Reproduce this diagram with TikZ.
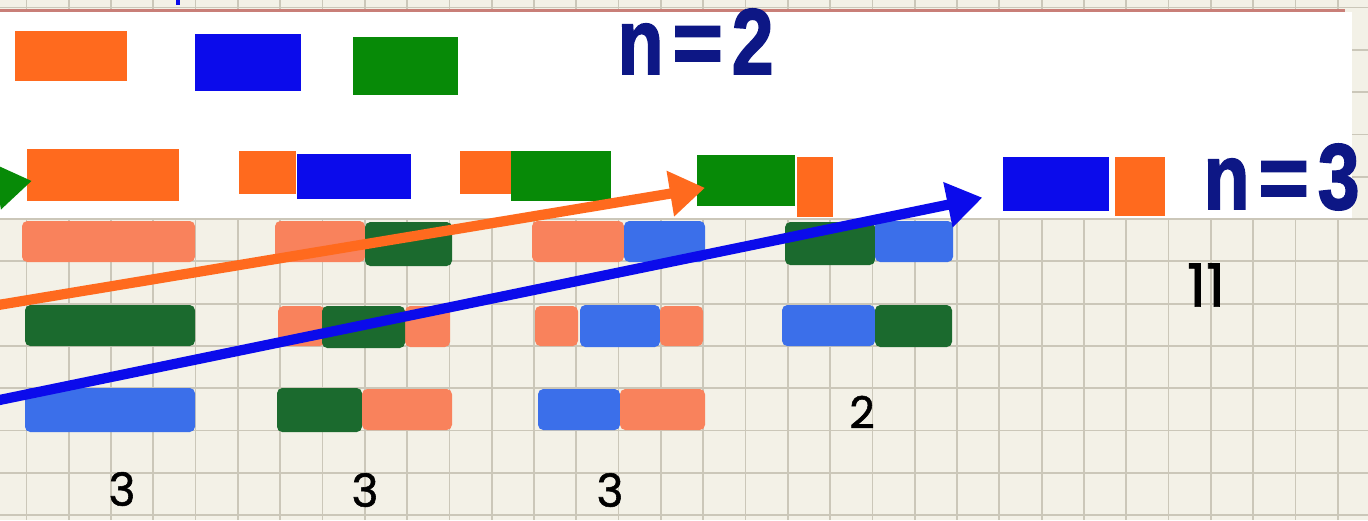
\documentclass[tikz,border=0pt]{standalone}
\usepackage{fontspec}
\usetikzlibrary{arrows.meta}
\newfontfamily\heavyfont{Liberation Sans}[BoldFeatures={FakeBold=2}]
\newfontfamily\handfont{Poppins}[FakeBold=1.2]
\definecolor{paper}{HTML}{F3F1E7}
\definecolor{gridc}{HTML}{CBC7B9}
\definecolor{redl}{HTML}{C97F78}
\definecolor{brO}{HTML}{FF6A1E}
\definecolor{brB}{HTML}{0B0BEB}
\definecolor{brG}{HTML}{078A07}
\definecolor{sal}{HTML}{F9825C}
\definecolor{dgr}{HTML}{1B6A2E}
\definecolor{lbl}{HTML}{3B6FEA}
\definecolor{navy}{HTML}{0D1785}
\newcommand{\bigglyphs}[1]{\scalebox{0.82}[1.02]{n}\kern2.5pt\scalebox{0.95}[1]{=}\kern2.5pt\scalebox{0.82}[1.02]{#1}}
\begin{document}
\begin{tikzpicture}[x=0.01cm,y=-0.01cm,
  gridl/.style={draw=gridc,line width=0.5pt},
  box/.style={inner sep=0pt,outer sep=0pt,anchor=north west},
  hd/.style={rounded corners=1.5pt},
  arr/.style={line width=2.9pt,-{Triangle[length=10pt,width=12.5pt]}},
  bigtxt/.style={anchor=base west,inner sep=0pt,text=navy,font=\heavyfont\bfseries\fontsize{26}{26}\selectfont},
  hand/.style={inner sep=0pt,text=black}]
\clip (0,0) rectangle (1368,520);
\fill[paper] (0,0) rectangle (1368,520);
\foreach \k in {0,...,31} \draw[gridl] ({26.4+42.3*\k},0) -- ({26.4+42.3*\k},520);
\foreach \k in {-5,...,7} \draw[gridl] (0,{219+42.3*\k}) -- (1368,{219+42.3*\k});
\fill[white] (0,12) rectangle (1352,218);
\draw[redl,line width=0.9pt] (0,10.5) -- (1345,10.5);
\draw[brB,line width=1pt] (178,0) -- (178,5);
% hand-drawn rows
% row 1
\fill[sal,hd] (22,221) rectangle (195,262);
\fill[sal,hd] (275,221) rectangle (365,262);
\fill[dgr,hd] (365,222) rectangle (452,266);
\fill[sal,hd] (532,221) rectangle (624,262);
\fill[lbl,hd] (624,221) rectangle (705,262);
\fill[dgr,hd] (785,222) rectangle (875,265);
\fill[lbl,hd] (875,221) rectangle (953,262);
% row 2
\fill[dgr,hd] (25,305) rectangle (195,346);
\fill[sal,hd] (278,306) rectangle (325,346);
\fill[sal,hd] (405,306) rectangle (450,347);
\fill[dgr,hd] (322,306) rectangle (405,348);
\fill[sal,hd] (535,306) rectangle (578,346);
\fill[lbl,hd] (580,305) rectangle (660,347);
\fill[sal,hd] (660,306) rectangle (703,346);
\fill[lbl,hd] (782,305) rectangle (875,346);
\fill[dgr,hd] (875,305) rectangle (952,347);
% row 3
\fill[lbl,hd] (25,388) rectangle (195,432);
\fill[dgr,hd] (277,388) rectangle (362,432);
\fill[sal,hd] (362,389) rectangle (452,430);
\fill[lbl,hd] (538,389) rectangle (620,430);
\fill[sal,hd] (620,389) rectangle (705,430);
% hand labels
\node[hand,font=\handfont\fontsize{13}{13}\selectfont] (c1) at (122,489) {3};
\node[hand,font=\handfont\fontsize{13}{13}\selectfont] (c2) at (365,490) {3};
\node[hand,font=\handfont\fontsize{13}{13}\selectfont] (c3) at (610,490) {3};
\node[hand,font=\handfont\fontsize{12.5}{12.5}\selectfont] (c4) at (862,412) {2};
\node[hand,font=\handfont\fontsize{17}{17}\selectfont] (c5) at (1206,285) {11};
% top white area
\node[box,fill=brO,minimum width=1.12cm,minimum height=0.50cm] (oA) at (15,31) {};
\node[box,fill=brB,minimum width=1.06cm,minimum height=0.57cm] (bA) at (195,34) {};
\node[box,fill=brG,minimum width=1.05cm,minimum height=0.58cm] (gA) at (353,37) {};
\node[bigtxt] (n2) at (617,74) {\bigglyphs{2}};
\node[box,fill=brO,minimum width=1.52cm,minimum height=0.52cm] (oB) at (27,149) {};
\node[box,fill=brO,minimum width=0.57cm,minimum height=0.43cm] (oC) at (239,151) {};
\node[box,fill=brB,minimum width=1.14cm,minimum height=0.45cm] (bC) at (297,154) {};
\node[box,fill=brO,minimum width=0.52cm,minimum height=0.43cm] (oD) at (460,151) {};
\node[box,fill=brG,minimum width=1.00cm,minimum height=0.50cm] (gD) at (511,151) {};
\node[box,fill=brG,minimum width=0.98cm,minimum height=0.51cm] (gE) at (697,155) {};
\node[box,fill=brO,minimum width=0.36cm,minimum height=0.60cm] (oE) at (797,157) {};
\node[box,fill=brB,minimum width=1.06cm,minimum height=0.54cm] (bF) at (1003,157) {};
\node[box,fill=brO,minimum width=0.50cm,minimum height=0.59cm] (oF) at (1115,157) {};
\node[bigtxt] (n3) at (1203,209) {\bigglyphs{3}};
% arrows
\coordinate (gstart) at (-60,196);
\coordinate (ostart) at (-20,308);
\coordinate (bstart) at (-20,404);
\draw[arr,draw=brG,fill=brG,shorten >=-1.4pt] (gstart) -- (oB.185);
\draw[arr,draw=brO,fill=brO,shorten >=-2.3pt] (ostart) -- (gE.190);
\draw[arr,draw=brB,fill=brB,shorten >=6pt] (bstart) -- (bF.190);
\end{tikzpicture}
\end{document}
